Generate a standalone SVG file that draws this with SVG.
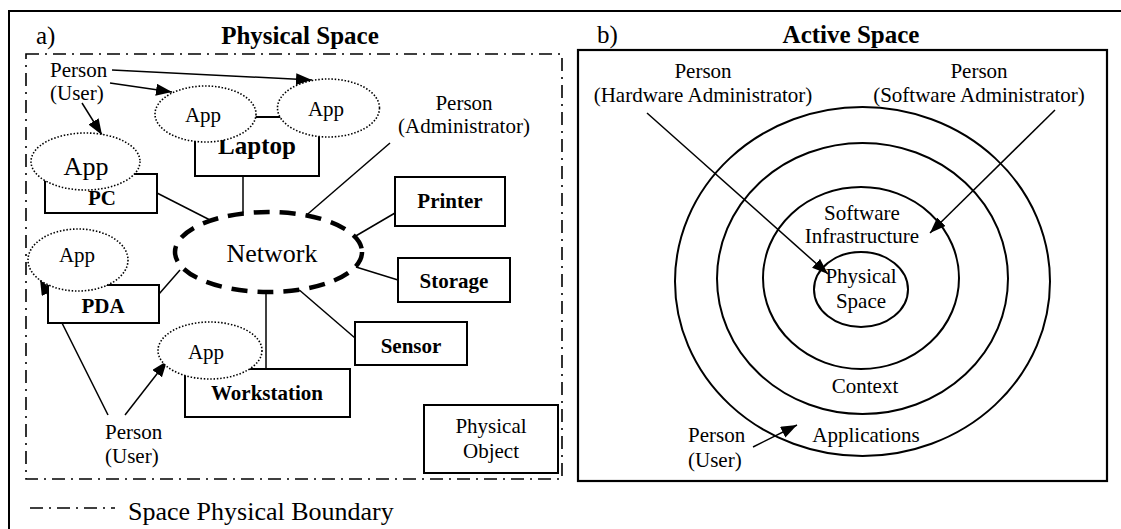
<svg xmlns="http://www.w3.org/2000/svg" width="1121" height="529" viewBox="0 0 1121 529">
<style>
text{font-family:"Liberation Serif","Times New Roman",serif;fill:#000}
.r{font-size:21px}
.b{font-size:21px;font-weight:bold}
.t{font-size:25px;font-weight:bold}
.c{text-anchor:middle}
.box{fill:#fff;stroke:#000;stroke-width:2}
.app{fill:#fff;stroke:#000;stroke-width:1.6;stroke-dasharray:1.5 1.8}
.ln{fill:none;stroke:#000;stroke-width:1.5}
.ar{fill:none;stroke:#000;stroke-width:1.5;marker-end:url(#ah)}
.ring{fill:none;stroke:#000;stroke-width:2}
.dd{fill:none;stroke:#000;stroke-width:1.6;stroke-dasharray:13 6 2 6}
</style>
<defs>
<marker id="ah" markerUnits="userSpaceOnUse" markerWidth="17" markerHeight="13" refX="16" refY="6" orient="auto">
<path d="M0,0 L16,6 L0,12 z" fill="#000"/>
</marker>
</defs>
<rect width="1121" height="529" fill="#fff"/>
<g id="frame">
<path d="M9,529 V11 H1121" fill="none" stroke="#000" stroke-width="2"/>
</g>
<g id="panel-a-title">
<text x="36" y="44" style="font-size:25px">a)</text>
<text x="300" y="44" class="t c">Physical Space</text>
</g>
<g id="boundary">
<rect x="26" y="54" width="536" height="425" class="dd"/>
</g>
<g id="legend">
<line x1="30" y1="508" x2="115" y2="508" class="dd"/>
<text x="128" y="520" style="font-size:26px">Space Physical Boundary</text>
</g>
<g id="connectors">
<line x1="157" y1="193" x2="210" y2="220" class="ln"/>
<line x1="243" y1="176" x2="243" y2="214" class="ln"/>
<line x1="395" y1="213" x2="354" y2="237" class="ln"/>
<line x1="398" y1="280" x2="356" y2="267" class="ln"/>
<line x1="297" y1="288" x2="355" y2="338" class="ln"/>
<line x1="266" y1="292" x2="266" y2="369" class="ln"/>
<line x1="159" y1="294" x2="180" y2="270" class="ln"/>
<line x1="112" y1="70" x2="312" y2="80" class="ar"/>
<line x1="110" y1="83" x2="172" y2="92" class="ar"/>
<line x1="82" y1="103" x2="102" y2="135" class="ar"/>
<line x1="390" y1="143" x2="280" y2="238" class="ar"/>
<line x1="108" y1="415" x2="40" y2="279" class="ar"/>
<line x1="125" y1="415" x2="167" y2="361" class="ar"/>
<line x1="647" y1="113" x2="828" y2="274" class="ar"/>
<line x1="1055" y1="110" x2="930" y2="233" class="ar"/>
<line x1="753" y1="447" x2="797" y2="425" class="ar"/>
</g>
<g id="network">
<ellipse cx="268.5" cy="252" rx="93.5" ry="40" fill="#fff" stroke="#000" stroke-width="4.5" stroke-dasharray="16 10"/>
<text x="272" y="262" class="c" style="font-size:26px">Network</text>
</g>
<g id="laptop">
<rect x="195" y="117" width="124" height="59" class="box"/>
<text x="257" y="154" class="c" style="font-size:25px;font-weight:bold">Laptop</text>
</g>
<g id="app-laptop-1">
<ellipse cx="205.5" cy="114" rx="50.5" ry="28" class="app"/>
<text x="203" y="122" class="r c">App</text>
</g>
<g id="app-laptop-2">
<ellipse cx="328.5" cy="108" rx="51" ry="29" class="app"/>
<text x="326" y="116" class="r c">App</text>
</g>
<g id="pc">
<rect x="45" y="174" width="112" height="39" class="box"/>
<text x="102" y="205" class="b c">PC</text>
</g>
<g id="app-pc">
<ellipse cx="85.5" cy="161.5" rx="54.5" ry="28.5" class="app"/>
<text x="86" y="175" class="c" style="font-size:26px">App</text>
</g>
<g id="pda">
<rect x="48" y="285" width="111" height="38" class="box"/>
<text x="103" y="313" class="b c">PDA</text>
</g>
<g id="app-pda">
<ellipse cx="78" cy="260" rx="50" ry="31" class="app"/>
<text x="77" y="262" class="r c">App</text>
</g>
<g id="workstation">
<rect x="185" y="369" width="165" height="48" class="box"/>
<text x="267" y="400" class="b c">Workstation</text>
</g>
<g id="app-workstation">
<ellipse cx="210" cy="350.5" rx="52" ry="28.5" class="app"/>
<text x="206" y="359" class="r c">App</text>
</g>
<g id="printer">
<rect x="395" y="177" width="110" height="49" class="box"/>
<text x="450" y="208" class="b c">Printer</text>
</g>
<g id="storage">
<rect x="398" y="258" width="112" height="44" class="box"/>
<text x="454" y="288" class="b c">Storage</text>
</g>
<g id="sensor">
<rect x="355" y="322" width="112" height="43" class="box"/>
<text x="411" y="353" class="b c">Sensor</text>
</g>
<g id="physical-object">
<rect x="424" y="405" width="134" height="68" class="box"/>
<text x="491" y="433" class="r c">Physical</text>
<text x="491" y="458" class="r c">Object</text>
</g>
<g id="person-user-top">
<text x="50" y="77" class="r">Person</text>
<text x="50" y="100" class="r">(User)</text>
</g>
<g id="person-admin">
<text x="464" y="110" class="r c">Person</text>
<text x="464" y="133" class="r c">(Administrator)</text>
</g>
<g id="person-user-bottom">
<text x="105" y="439" class="r">Person</text>
<text x="105" y="463" class="r">(User)</text>
</g>
<g id="panel-b-title">
<text x="597" y="43" style="font-size:25px">b)</text>
<text x="851" y="43" class="t c">Active Space</text>
</g>
<g id="active-space">
<rect x="578" y="50" width="529" height="431" fill="none" stroke="#000" stroke-width="2.2"/>
</g>
<g id="ring-applications">
<ellipse cx="862.5" cy="281.5" rx="187.5" ry="174.5" class="ring"/>
<text x="866" y="442" class="r c">Applications</text>
</g>
<g id="ring-context">
<ellipse cx="862.5" cy="278.5" rx="145.5" ry="135.5" class="ring"/>
<text x="865" y="393" class="r c">Context</text>
</g>
<g id="ring-software">
<ellipse cx="861" cy="278" rx="98" ry="91" class="ring"/>
<text x="862" y="220" class="r c">Software</text>
<text x="862" y="243" class="r c">Infrastructure</text>
</g>
<g id="ring-physical">
<ellipse cx="861" cy="289.5" rx="47" ry="37.5" class="ring"/>
<text x="861" y="283" class="r c">Physical</text>
<text x="861" y="308" class="r c">Space</text>
</g>
<g id="person-hw-admin">
<text x="703" y="78" class="r c">Person</text>
<text x="703" y="102" class="r c">(Hardware Administrator)</text>
</g>
<g id="person-sw-admin">
<text x="979" y="78" class="r c">Person</text>
<text x="979" y="102" class="r c">(Software Administrator)</text>
</g>
<g id="person-user-b">
<text x="688" y="442" class="r">Person</text>
<text x="688" y="467" class="r">(User)</text>
</g>
</svg>
